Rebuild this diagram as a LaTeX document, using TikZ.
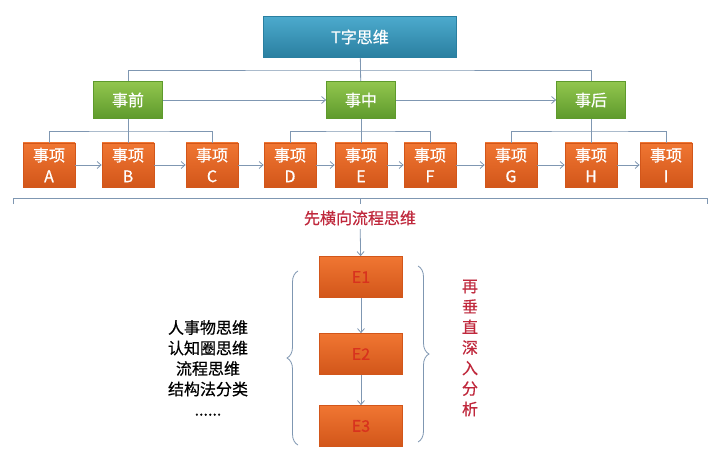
\documentclass[tikz,border=0pt]{standalone}
\usepackage{fontspec}
\setmainfont{Noto Sans CJK SC}[FakeBold=0.5]
\usetikzlibrary{arrows.meta,decorations.pathreplacing}

\definecolor{linegray}{HTML}{7F97B2}
\definecolor{txtred}{HTML}{C0283C}
\definecolor{tealtop}{HTML}{4CAACD}
\definecolor{tealbot}{HTML}{2A7FA0}
\definecolor{greentop}{HTML}{92C64E}
\definecolor{greenbot}{HTML}{5E9A2C}
\definecolor{orangetop}{HTML}{F07632}
\definecolor{orangebot}{HTML}{D2561A}
\definecolor{elabel}{HTML}{D8321E}

\tikzset{every picture/.style={line width=0.75pt}}
\tikzset{
  conn/.style={draw=linegray,line width=0.8pt},
  arr/.style={conn,-{Straight Barb[length=4pt,width=7pt]}},
  topbox/.style={draw=tealbot,top color=tealtop,bottom color=tealbot,
    minimum width=193pt,minimum height=41pt,text=white,font=\fontsize{16}{18}\selectfont},
  phase/.style={draw=greenbot,top color=greentop,bottom color=greenbot,
    minimum width=69pt,minimum height=37pt,text=white,font=\fontsize{16}{18}\selectfont},
  item/.style={draw=orangebot,top color=orangetop,bottom color=orangebot,
    minimum width=52pt,minimum height=44pt,inner sep=1pt,align=center,text=white,font=\fontsize{16}{21}\selectfont},
  deep/.style={item,minimum width=83pt,minimum height=41pt,text=elabel}
}

\begin{document}
\begin{tikzpicture}[x=1pt,y=-1pt]
			\useasboundingbox[fill=white] (0,0) rectangle (720,468);

			% top and the three phases
			\node [topbox](top) at (360,37) {T字思维};
			\node [phase](pre) at (128,100) {事前};
			\node [phase](mid) at (361,100) {事中};
			\node [phase](post) at (591,100) {事后};

			% the nine items
			\node [item](itA) at (49,165) {事项\\A};
			\node [item](itB) at (128,165) {事项\\B};
			\node [item](itC) at (212,165) {事项\\C};
			\node [item](itD) at (290,165) {事项\\D};
			\node [item](itE) at (361,165) {事项\\E};
			\node [item](itF) at (430,165) {事项\\F};
			\node [item](itG) at (511,165) {事项\\G};
			\node [item](itH) at (591,165) {事项\\H};
			\node [item](itI) at (666,165) {事项\\I};

			\coordinate (bus) at (360,70);
			\coordinate (preBus) at (128,131);
			\coordinate (midBus) at (361,131);
			\coordinate (postBus) at (591,131);

			\draw [conn] (pre.north) |- (bus) -| (post.north);
			\draw [conn] (top) -- (mid);
			\draw [arr] (pre) -- (mid);
			\draw [arr] (mid) -- (post);

			\draw [conn] (pre) -- (itB);
			\draw [conn] (itA.north) |- (preBus) -| (itC.north);
			\draw [conn] (mid) -- (itE);
			\draw [conn] (itD.north) |- (midBus) -| (itF.north);
			\draw [conn] (post) -- (itH);
			\draw [conn] (itG.north) |- (postBus) -| (itI.north);

			\foreach \a/\b in {A/B,B/C,C/D,D/E,E/F,F/G,G/H,H/I}
				\draw [arr] (it\a) -- (it\b);

			% horizontal bracket and label
			\coordinate (brL) at (13,198);
			\coordinate (brR) at (707,198);
			\coordinate (brM) at (360,198);
			\draw [conn] ([yshift=-6pt]brL) -- (brL) -- (brR) -- ([yshift=-6pt]brR);
			\draw [conn] (brM) -- ++(0,6);
			\node [text=txtred,font=\fontsize{16}{18}\selectfont](flow) at (360,218) {先横向流程思维};

			% vertical chain
			\node [deep](e1) at (361,277) {E1};
			\node [deep](e2) at (361,354) {E2};
			\node [deep](e3) at (361,426) {E3};
			\draw [arr] (flow) -- (e1);
			\draw [arr] (e1) -- (e2);
			\draw [arr] (e2) -- (e3);

			\draw [conn,decorate,decoration={brace,amplitude=11pt}] (298,445) -- (298,271);
			\draw [conn,decorate,decoration={brace,amplitude=11pt}] (418,266) -- (418,442);

			\node [align=center,font=\fontsize{16}{20.5}\selectfont](ways) at (208,368) {人事物思维\\认知圈思维\\流程思维\\结构法分类\\......};
			\node [align=center,text=txtred,font=\fontsize{16}{20.5}\selectfont](deepTxt) at (470,348) {再\\垂\\直\\深\\入\\分\\析};
		\end{tikzpicture}
\end{document}
